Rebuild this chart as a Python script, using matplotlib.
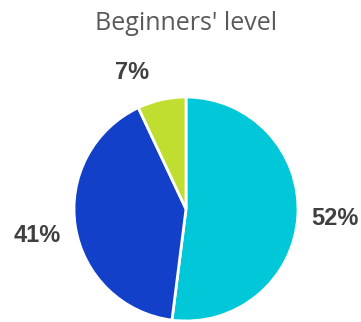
import matplotlib.pyplot as plt

labels = ['Advanced', 'Intermediate', 'Beginner']
shares = [52, 41, 7]
colors = ['#00C8D8', '#1340C8', '#C0DE30']

W, H = 361, 322
fig = plt.figure(figsize=(W / 100, H / 100), dpi=100)

cx, cy, r = 186, 209, 112
ax = fig.add_axes([(cx - r) / W, (H - cy - r) / H, 2 * r / W, 2 * r / H])

wedges, texts, autotexts = ax.pie(
    shares, colors=colors, startangle=90, counterclock=False, radius=1,
    autopct='%d%%', pctdistance=1.33,
    wedgeprops=dict(edgecolor='white', linewidth=2),
    textprops=dict(color='#404040', fontsize=17, fontweight='bold',
                   family='Liberation Sans'))
# small slice label sits further left in the original
autotexts[2].set_position((-0.48, 1.22))
autotexts[1].set_position((-1.33, -0.24))
ax.set_xlim(-1, 1)
ax.set_ylim(-1, 1)
ax.set_aspect('equal')
ax.axis('off')

fig.text(cx / W, 1 - 24 / H, "Beginners' level", ha='center', va='center',
         fontsize=18, color='#595959', family='Open Sans')

plt.savefig('out.png', dpi=100)
plt.close()
